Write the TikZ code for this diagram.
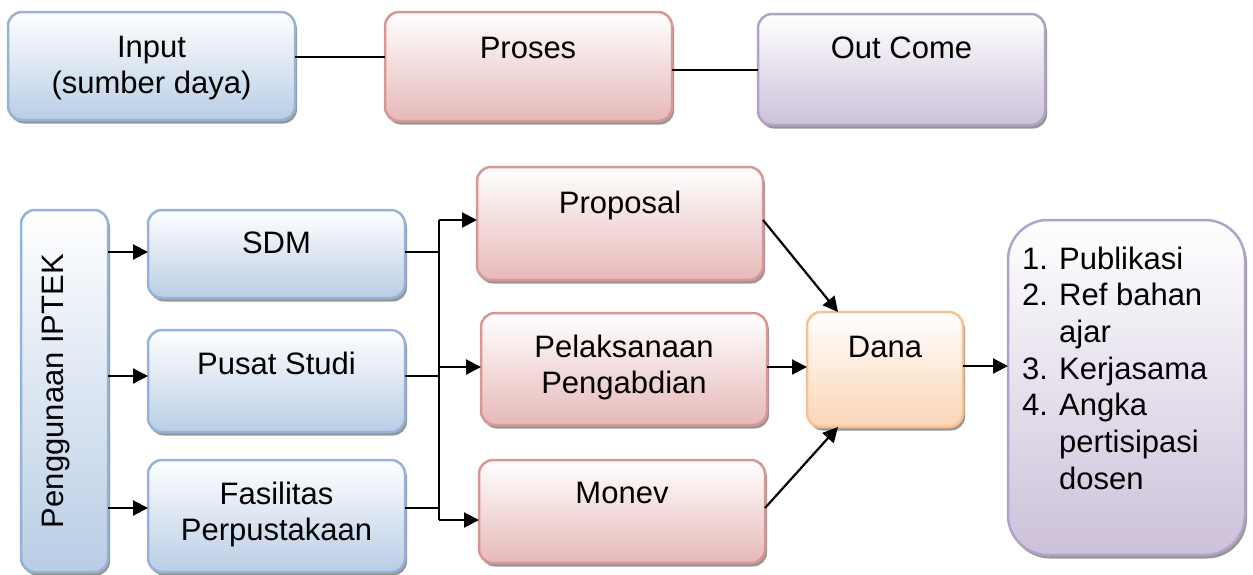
\documentclass[tikz,border=0pt]{standalone}
\usepackage{fontspec}
\setmainfont{Liberation Sans}
\usetikzlibrary{arrows.meta,shadows}
\definecolor{bluebd}{RGB}{149,179,215}
\definecolor{bluebot}{RGB}{185,205,229}
\definecolor{redbd}{RGB}{217,150,148}
\definecolor{redbot}{RGB}{230,185,184}
\definecolor{purbd}{RGB}{179,162,199}
\definecolor{purbot}{RGB}{204,193,218}
\definecolor{orbd}{RGB}{250,192,144}
\definecolor{orbot}{RGB}{252,213,181}
\definecolor{shadowgray}{RGB}{150,150,150}
\tikzset{
  box/.style={draw, line width=2.5pt, rounded corners=14pt, inner sep=0pt, outer sep=0pt,
    drop shadow={shadow xshift=2pt, shadow yshift=-3.5pt, fill=shadowgray, opacity=1}},
  bluebox/.style={box, draw=bluebd, top color=white, bottom color=bluebot},
  redbox/.style={box, draw=redbd, top color=white, bottom color=redbot},
  purbox/.style={box, draw=purbd, top color=white, bottom color=purbot},
  orbox/.style={box, draw=orbd, top color=white, bottom color=orbot},
  txt/.style={font=\fontsize{31}{36.7}\selectfont, inner sep=0pt, anchor=base},
  conn/.style={line width=2.2pt, black},
  arr/.style={conn, -{Triangle[length=15pt,width=15pt]}},
}
\begin{document}
\begin{tikzpicture}[x=1pt,y=-1pt]
\useasboundingbox (0,0) rectangle (1253,574);
% top row
\node[bluebox, minimum width=287pt, minimum height=108pt] (input) at (151.5,66) {};
\node[redbox, minimum width=287pt, minimum height=109pt] (proses) at (528.5,66.5) {};
\node[purbox, minimum width=287pt, minimum height=111pt] (outcome) at (901.5,69.5) {};
\node[txt] (inputT) at (151.5,57) {\begin{tabular}[t]{@{}c@{}}Input\\(sumber daya)\end{tabular}};
\node[txt] (prosesT) at (528,58) {Proses};
\node[txt] (outcomeT) at (901.5,58) {Out Come};
\draw[conn] (input.east|-0,57) -- (proses.west|-0,57);
\draw[conn] (proses.east|-0,70) -- (outcome.west|-0,70);
% bottom
\node[bluebox, minimum width=87pt, minimum height=362pt] (peng) at (64.5,391) {};
\node[txt, anchor=center, rotate=90] (pengT) at (56,391) {Penggunaan IPTEK};
\node[bluebox, minimum width=257pt, minimum height=88pt] (sdm) at (276.5,254) {};
\node[bluebox, minimum width=257pt, minimum height=102pt] (pusat) at (276.5,381) {};
\node[bluebox, minimum width=257pt, minimum height=112pt] (fas) at (276.5,516) {};
\node[txt] (sdmT) at (276.5,253) {SDM};
\node[txt] (pusatT) at (276.5,374) {Pusat Studi};
\node[txt] (fasT) at (276.5,504) {\begin{tabular}[t]{@{}c@{}}Fasilitas\\Perpustakaan\end{tabular}};
\node[redbox, minimum width=286pt, minimum height=113pt] (proposal) at (620,223.5) {};
\node[redbox, minimum width=286pt, minimum height=112pt] (pelak) at (624,369) {};
\node[redbox, minimum width=286pt, minimum height=103pt] (monev) at (622,511.5) {};
\node[txt] (proposalT) at (620,213) {Proposal};
\node[txt] (pelakT) at (624,357) {\begin{tabular}[t]{@{}c@{}}Pelaksanaan\\Pengabdian\end{tabular}};
\node[txt] (monevT) at (622,503) {Monev};
\node[orbox, minimum width=156pt, minimum height=115pt] (dana) at (885,369.5) {};
\node[txt] (danaT) at (885,357) {Dana};
\node[purbox, rounded corners=40pt, minimum width=237pt, minimum height=335pt] (hasil) at (1126.5,387.5) {};
\node[txt, anchor=base west] (hasilT) at (1022,269) {\begin{tabular}[t]{@{}p{37pt}@{}l@{}}1.&Publikasi\\2.&Ref bahan\\&ajar\\3.&Kerjasama\\4.&Angka\\&pertisipasi\\&dosen\end{tabular}};
% connectors
\draw[arr] (peng.east|-0,252) -- (sdm.west|-0,252);
\draw[arr] (peng.east|-0,376) -- (pusat.west|-0,376);
\draw[arr] (peng.east|-0,508) -- (fas.west|-0,508);
\coordinate (btop) at (439,220);
\coordinate (bmid) at (439,367);
\coordinate (bbot) at (439,520);
\draw[conn] (sdm.east|-0,252) -- (btop|-0,252);
\draw[conn] (pusat.east|-0,376) -- (btop|-0,376);
\draw[conn] (fas.east|-0,508) -- (btop|-0,508);
\draw[conn] (btop) -- (bbot);
\draw[arr] (btop) -- (proposal.west|-btop);
\draw[arr] (bmid) -- (pelak.west|-bmid);
\draw[arr] (bbot) -- (monev.west|-bbot);
\draw[arr] (proposal.east|-0,220) -- (dana.north-|838,0);
\draw[arr] (pelak.east|-0,367) -- (dana.west|-0,367);
\draw[arr] (monev.east|-0,508) -- (dana.south-|838,0);
\draw[arr] (dana.east|-0,366) -- (hasil.west|-0,366);
\end{tikzpicture}
\end{document}
